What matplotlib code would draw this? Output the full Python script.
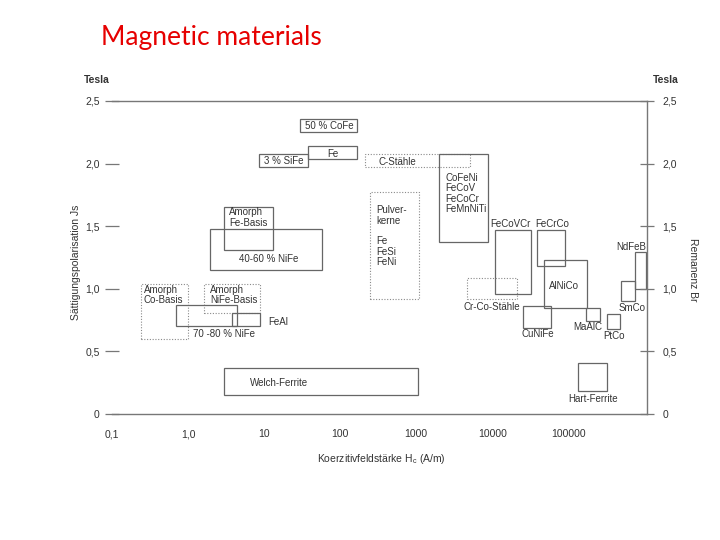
import matplotlib
matplotlib.use("Agg")
import matplotlib.pyplot as plt
from matplotlib.patches import Rectangle

plt.rcParams["font.family"] = ["Liberation Sans", "DejaVu Sans"]
plt.rcParams["mathtext.fontset"] = "custom"
plt.rcParams["mathtext.rm"] = "Liberation Sans"

# Werkstoffbereiche: Koerzitivfeldstaerke Hc (A/m) x Polarisation J (T)
materials = ["50 % CoFe", "Fe", "3 % SiFe", "C-Stähle", "CoFeNi-Gruppe", "Pulverkerne",
             "Amorph Fe-Basis", "40-60 % NiFe", "FeCoVCr", "FeCrCo", "AlNiCo",
             "Cr-Co-Stähle", "NdFeB", "SmCo", "CuNiFe", "MaAlC", "PtCo",
             "Amorph Co-Basis", "Amorph NiFe-Basis", "70 -80 % NiFe", "FeAl",
             "Welch-Ferrite", "Hart-Ferrite"]
hc_lo = [30, 38, 8.5, 210, 2000, 250, 2.95, 1.93, 10900, 38700, 47900,
         4650, 755000, 493000, 25300, 171000, 323000,
         0.24, 1.61, 0.69, 3.76, 2.95, 134000]
hc_hi = [166, 166, 38, 5090, 8770, 1090, 13.0, 57, 32300, 90600, 176000,
         21100, 1.05e6, 755000, 59200, 261000, 479000,
         0.99, 8.78, 4.37, 8.78, 1050, 323000]
j_lo = [2.25, 2.04, 1.97, 1.97, 1.37, 0.92, 1.31, 1.15, 0.96, 1.18, 0.85,
        0.92, 1.00, 0.90, 0.69, 0.74, 0.68,
        0.60, 0.81, 0.70, 0.70, 0.15, 0.18]
j_hi = [2.36, 2.14, 2.08, 2.08, 2.08, 1.77, 1.65, 1.48, 1.47, 1.47, 1.23,
        1.09, 1.29, 1.06, 0.86, 0.85, 0.80,
        1.04, 1.04, 0.87, 0.81, 0.37, 0.41]
dotted = {"C-Stähle", "Pulverkerne", "Cr-Co-Stähle", "Amorph Co-Basis", "Amorph NiFe-Basis"}

x_ticks = [0.1, 1, 10, 100, 1000, 10000, 100000]
x_ticklabels = ["0,1", "1,0", "10", "100", "1000", "10000", "100000"]
y_ticks = [0, 0.5, 1.0, 1.5, 2.0, 2.5]
y_ticklabels = ["0", "0,5", "1,0", "1,5", "2,0", "2,5"]

# Beschriftungen (Text, Hc, J, Ausrichtung)
labels = [
    ("50 % CoFe", 71, 2.30, "center"),
    ("Fe", 80, 2.08, "center"),
    ("3 % SiFe", 18, 2.02, "center"),
    ("C-Stähle", 560, 2.01, "center"),
    ("CoFeNi\nFeCoV\nFeCoCr\nFeMnNiTi", 2390, 1.76, "left"),
    ("Pulver-\nkerne\n\nFe\nFeSi\nFeNi", 295, 1.42, "left"),
    ("Amorph\nFe-Basis", 3.43, 1.57, "left"),
    ("40-60 % NiFe", 11.5, 1.24, "center"),
    ("FeCoVCr", 17100, 1.52, "center"),
    ("FeCrCo", 61000, 1.52, "center"),
    ("AlNiCo", 88000, 1.02, "center"),
    ("NdFeB", 668000, 1.33, "center"),
    ("Cr-Co-Stähle", 9900, 0.855, "center"),
    ("SmCo", 689000, 0.847, "center"),
    ("CuNiFe", 39900, 0.64, "center"),
    ("MaAlC", 181000, 0.695, "center"),
    ("PtCo", 399000, 0.623, "center"),
    ("Amorph\nCo-Basis", 0.261, 0.95, "left"),
    ("Amorph\nNiFe-Basis", 1.93, 0.95, "left"),
    ("FeAl", 11.2, 0.735, "left"),
    ("70 -80 % NiFe", 1.15, 0.639, "left"),
    ("Welch-Ferrite", 15.6, 0.248, "center"),
    ("Hart-Ferrite", 211000, 0.12, "center"),
]

C_LINE = "#666666"
C_DOT = "#8a8a8a"
C_TXT = "#333333"
FS = 7

fig = plt.figure(figsize=(7.2, 5.4), dpi=100)
W, H = 720, 540
ax = fig.add_axes([112 / W, 1 - 414 / H, (647 - 112) / W, (414 - 101) / H])
ax.set_xscale("log")
ax.set_xlim(0.1, 1.08e6)
ax.set_ylim(0, 2.5)

for name, x0, x1, y0, y1 in zip(materials, hc_lo, hc_hi, j_lo, j_hi):
    if name in dotted:
        ax.add_patch(Rectangle((x0, y0), x1 - x0, y1 - y0, fill=False,
                               edgecolor=C_DOT, lw=0.8, ls=(0, (1, 1.5))))
    else:
        ax.add_patch(Rectangle((x0, y0), x1 - x0, y1 - y0, fill=False,
                               edgecolor=C_LINE, lw=0.9))

for t, x, y, ha in labels:
    ax.text(x, y, t, ha=ha, va="center", fontsize=FS, color=C_TXT, linespacing=1.05)

ax.spines["left"].set_visible(False)
for s in ["top", "right", "bottom"]:
    ax.spines[s].set_color("#777777")
    ax.spines[s].set_linewidth(1.0)

ax.set_xticks(x_ticks)
ax.set_xticklabels(x_ticklabels)
ax.minorticks_off()
ax.tick_params(axis="x", length=0, pad=11, labelsize=7.5, labelcolor=C_TXT)
ax.set_yticks(y_ticks)
ax.set_yticklabels(y_ticklabels)
ax.tick_params(axis="y", direction="inout", length=10, width=0.9, color="#777777",
               pad=4, labelsize=7.5, labelcolor=C_TXT)

ax2 = ax.twinx()
ax2.set_ylim(0, 2.5)
for s in ax2.spines.values():
    s.set_visible(False)
ax2.set_yticks(y_ticks)
ax2.set_yticklabels(y_ticklabels)
ax2.tick_params(axis="y", direction="inout", length=10, width=0.9, color="#777777",
                pad=6, labelsize=7.5, labelcolor=C_TXT)

fig.text(97 / W, 1 - 80 / H, "Tesla", ha="center", va="center", fontsize=7.5,
         weight="bold", color=C_TXT)
fig.text(666 / W, 1 - 80 / H, "Tesla", ha="center", va="center", fontsize=7.5,
         weight="bold", color=C_TXT)
fig.text(76 / W, 1 - 262 / H, "Sättigungspolarisation Js", rotation=90, ha="center",
         va="center", fontsize=7.5, color=C_TXT)
fig.text(693 / W, 1 - 270 / H, "Remanenz Br", rotation=270, ha="center",
         va="center", fontsize=7.5, color=C_TXT)
fig.text(381 / W, 1 - 459 / H, r"Koerzitivfeldstärke H$_\mathrm{c}$ (A/m)", ha="center",
         va="center", fontsize=7.5, color=C_TXT)

fig.text(101 / W, 1 - 37 / H, "Magnetic materials", ha="left", va="center",
         fontsize=19, color="#e60000", family=["Lato", "DejaVu Sans"])

fig.savefig("out.png", dpi=100, facecolor="white")
